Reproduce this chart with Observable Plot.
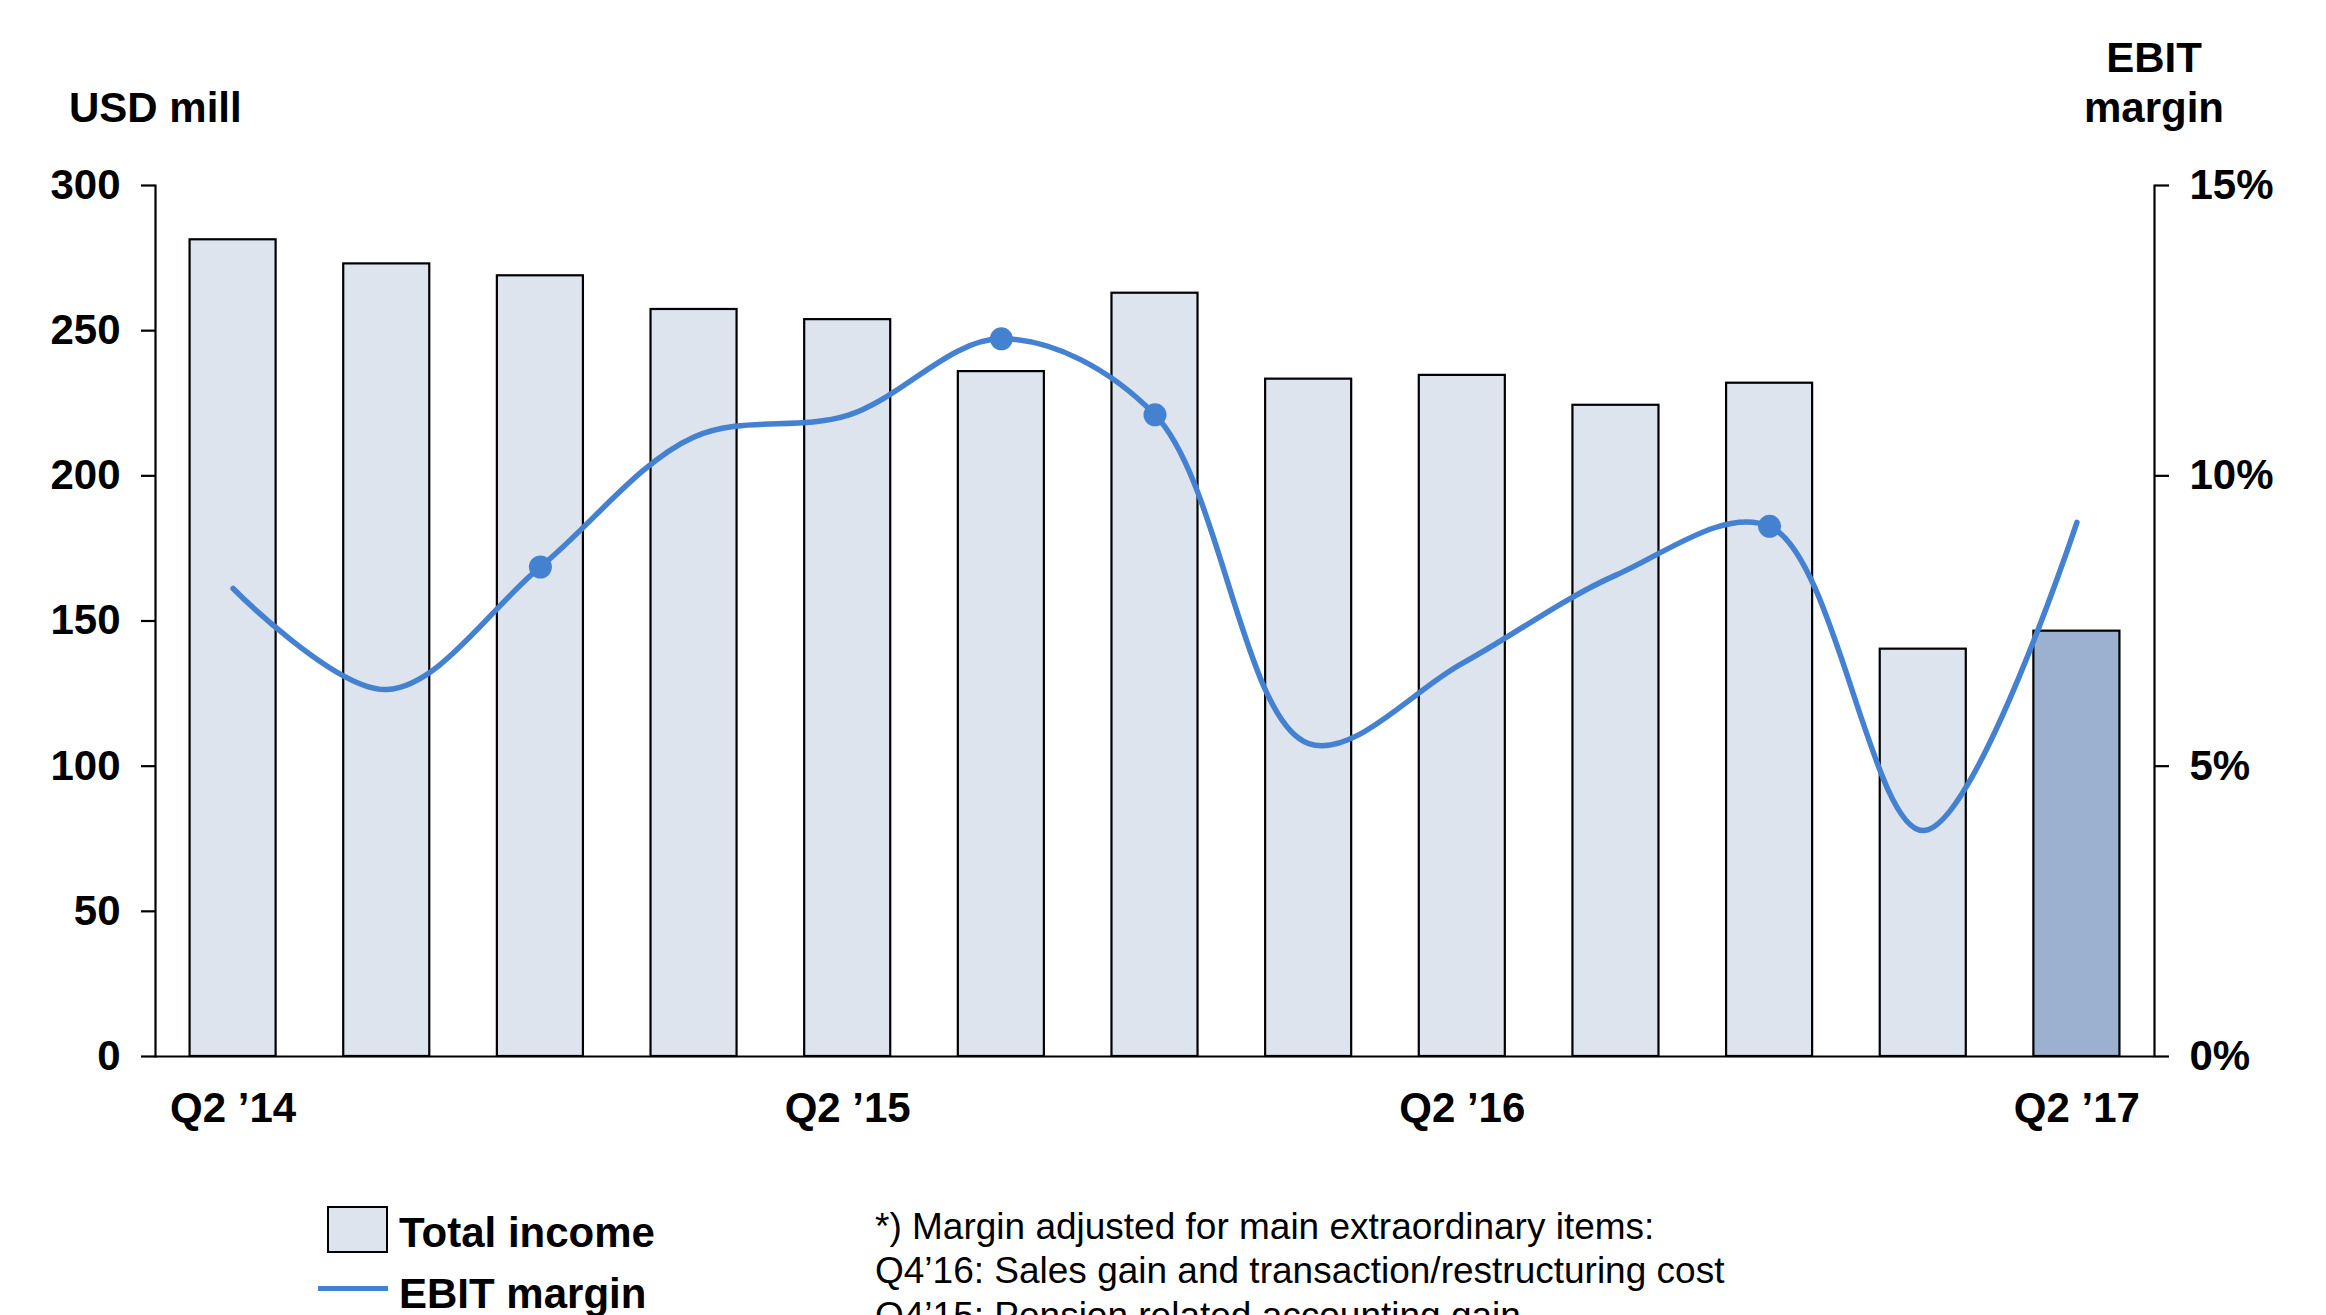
<!DOCTYPE html>
<html>
<head>
<meta charset="utf-8">
<script src="https://cdn.jsdelivr.net/npm/d3@7"></script>
<script src="https://cdn.jsdelivr.net/npm/@observablehq/plot@0.6"></script>
<style>
  html, body { margin: 0; padding: 0; background: #fff; width: 2326px; height: 1315px; overflow: hidden; }
  body { position: relative; font-family: "Liberation Sans", Arial, sans-serif; color: #000; }
  #chart { position: absolute; left: 0; top: 0; }
  .abs { position: absolute; white-space: nowrap; line-height: 1; }
  .bold { font-weight: bold; font-size: 42px; }
  .note { font-size: 37px; font-weight: normal; }
</style>
</head>
<body>
<div id="chart"></div>
<div class="abs bold" id="leftTitle" style="left:69px; top:87px;">USD mill</div>
<div class="abs bold" id="rightTitle1" style="left:2154px; top:37px; transform:translateX(-50%);">EBIT</div>
<div class="abs bold" id="rightTitle2" style="left:2154px; top:87px; transform:translateX(-50%);">margin</div>

<div class="abs" style="left:327px; top:1206px; width:57px; height:43px; background:#dde4ee; border:2px solid #000;"></div>
<div class="abs bold" style="left:399px; top:1212px;">Total income</div>
<div class="abs" style="left:318px; top:1286px; width:70px; height:5px; background:#4581d1;"></div>
<div class="abs bold" style="left:399px; top:1273px;">EBIT margin</div>

<div class="abs note" style="left:875px; top:1208px;">*) Margin adjusted for main extraordinary items:</div>
<div class="abs note" style="left:875px; top:1252px;">Q4’16: Sales gain and transaction/restructuring cost</div>
<div class="abs note" style="left:875px; top:1297px;">Q4’15: Pension related accounting gain</div>

<script>
// ---- data ----
const quarters = ["Q2 ’14","Q3 ’14","Q4 ’14","Q1 ’15","Q2 ’15","Q3 ’15","Q4 ’15","Q1 ’16","Q2 ’16","Q3 ’16","Q4 ’16","Q1 ’17","Q2 ’17"];
const totalIncome = [281.3, 273.0, 268.9, 257.3, 253.8, 235.9, 262.9, 233.3, 234.6, 224.3, 231.9, 140.3, 146.5];
const ebitMargin = [8.06, 6.32, 8.43, 10.67, 11.04, 12.36, 11.05, 5.39, 6.77, 8.29, 9.13, 3.89, 9.2];
const markedQuarters = ["Q4 ’14","Q3 ’15","Q4 ’15","Q4 ’16"];
const latestQuarter = "Q2 ’17";
const xTickLabels = ["Q2 ’14","Q2 ’15","Q2 ’16","Q2 ’17"];
const incomeTicks = [0, 50, 100, 150, 200, 250, 300];
const marginTicks = [0, 5, 10, 15];
const incomeDomain = [0, 300];
const marginDomain = [0, 15];

// ---- build ----
const k = incomeDomain[1] / marginDomain[1];
const rows = quarters.map((q, i) => ({q, income: totalIncome[i], margin: ebitMargin[i],
  kind: q === latestQuarter ? "latest" : "past"}));

const barColor = "#dde4ee", latestColor = "#9cb0cf", lineColor = "#4581d1";

const chart = Plot.plot({
  width: 2326,
  height: 1160,
  marginTop: 185,
  marginBottom: 104,
  marginLeft: 155,
  marginRight: 172,
  style: {fontFamily: "Liberation Sans, Arial, sans-serif", fontWeight: "bold", fontSize: "42px", color: "#000", background: "#fff", overflow: "visible"},
  x: {domain: quarters, paddingInner: 0.44, paddingOuter: 0.225, round: false, axis: null},
  y: {domain: incomeDomain, axis: null},
  color: {domain: ["past", "latest"], range: [barColor, latestColor]},
  marks: [
    Plot.barY(rows, {x: "q", y: "income", fill: "kind", stroke: "#000", strokeWidth: 2.2}),
    Plot.line(rows, {x: "q", y: d => d.margin * k, stroke: lineColor, strokeWidth: 5.5, curve: "catmull-rom"}),
    Plot.dot(rows.filter(d => markedQuarters.includes(d.q)), {x: "q", y: d => d.margin * k, r: 11.5, fill: lineColor}),
    Plot.ruleY([0], {stroke: "#000", strokeWidth: 2.2}),
    Plot.frame({anchor: "left", stroke: "#000", strokeWidth: 2.2}),
    Plot.frame({anchor: "right", stroke: "#000", strokeWidth: 2.2}),
    Plot.axisY({anchor: "left", ticks: incomeTicks, tickSize: 14, tickPadding: 21, strokeWidth: 2.2, label: null, tickFormat: d => String(d)}),
    Plot.axisY({anchor: "right", ticks: marginTicks.map(m => m * k), tickSize: 14, tickPadding: 21, strokeWidth: 2.2, label: null, tickFormat: d => (d / k) + "%"}),
    Plot.axisX({anchor: "bottom", ticks: xTickLabels, tickSize: 0, tickPadding: 36, label: null})
  ]
});
document.getElementById("chart").appendChild(chart);
</script>
</body>
</html>
